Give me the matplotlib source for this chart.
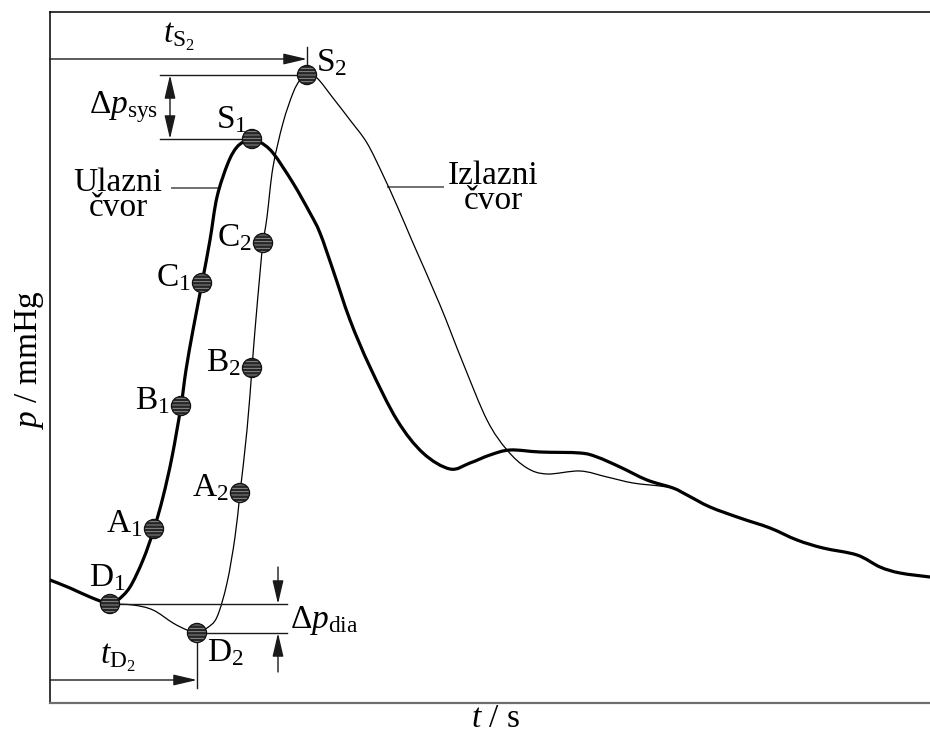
import matplotlib
matplotlib.use('Agg')
import matplotlib.pyplot as plt
from matplotlib.path import Path
from matplotlib.patches import PathPatch

# ---------------- data (arbitrary units) ----------------
t_ulazni = [0, 20, 40, 60, 68, 80, 93, 104, 113, 122, 131, 136, 143, 152, 160, 167,
            178, 187, 197, 202, 210, 223, 243, 260, 270, 283, 300, 320, 347, 373,
            400, 420, 440, 460, 490, 530, 547, 570, 597, 623, 637, 660, 690, 720,
            747, 773, 807, 830, 850, 880]
p_ulazni = [123, 115, 106, 99, 103, 116, 143, 174, 206, 246, 297, 333, 373, 420, 463, 506,
            540, 556, 563, 564, 561, 550, 520, 490, 470, 433, 383, 336, 283, 250,
            234, 240, 248, 253, 251, 250, 246, 236, 223, 215, 208, 196, 185, 175,
            163, 155, 148, 136, 130, 126]

t_izlazni = [60, 83, 103, 123, 137, 147, 157, 167, 177, 185, 190, 197, 202, 205, 210,
             213, 217, 223, 233, 243, 250, 257, 267, 283, 300, 317, 333, 348, 363, 390,
             413, 437, 457, 477, 497, 530, 557, 583, 610, 623]
p_izlazni = [99, 98, 93, 80, 73, 70, 75, 86, 120, 166, 210, 273, 335, 373, 430,
             460, 486, 536, 580, 610, 623, 628, 625, 605, 583, 560, 528, 495, 460, 398,
             340, 283, 253, 235, 229, 232, 226, 220, 217, 215]

names_ulazni = ['D', 'A', 'B', 'C', 'S']
t_pts_ulazni = [60, 104, 131, 152, 202]
p_pts_ulazni = [99, 174, 297, 420, 564]
t_pts_izlazni = [147, 190, 202, 213, 257]
p_pts_izlazni = [70, 210, 335, 460, 628]

label_ulazni = 'Ulazni\nčvor'
label_izlazni = 'Izlazni\nčvor'
xlabel = '$t$ / s'
ylabel = '$p$ / mmHg'

# ---------------- style ----------------
plt.rcParams['font.family'] = ['Liberation Serif', 'DejaVu Serif']
plt.rcParams['mathtext.fontset'] = 'custom'
plt.rcParams['mathtext.rm'] = 'Liberation Serif'
plt.rcParams['mathtext.it'] = 'Liberation Serif:italic'
plt.rcParams['mathtext.bf'] = 'Liberation Serif:bold'
plt.rcParams['hatch.linewidth'] = 0.6
plt.rcParams['hatch.color'] = '#9a9a9a'

FS = 24
LC = '#1a1a1a'

fig = plt.figure(figsize=(9.3, 7.35), dpi=100)
ax = fig.add_axes([50 / 930, 32 / 735, 880 / 930, 691 / 735])
ax.set_xlim(0, 880)
ax.set_ylim(0, 691)
ax.set_xticks([])
ax.set_yticks([])
ax.spines['right'].set_visible(False)
ax.spines['left'].set_linewidth(1.1)
ax.spines['top'].set_linewidth(1.1)
ax.spines['bottom'].set_linewidth(1.6)
ax.spines['bottom'].set_color('#6e6e6e')


def smooth_path(xs, ys):
    """Cubic Bezier path passing through every data point (Catmull-Rom tangents)."""
    pts = list(zip(xs, ys))
    n = len(pts)
    verts = [pts[0]]
    codes = [Path.MOVETO]
    for i in range(n - 1):
        p0 = pts[i - 1] if i > 0 else pts[i]
        p1 = pts[i]
        p2 = pts[i + 1]
        p3 = pts[i + 2] if i + 2 < n else pts[i + 1]
        c1 = (p1[0] + (p2[0] - p0[0]) / 6.0, p1[1] + (p2[1] - p0[1]) / 6.0)
        c2 = (p2[0] - (p3[0] - p1[0]) / 6.0, p2[1] - (p3[1] - p1[1]) / 6.0)
        verts += [c1, c2, p2]
        codes += [Path.CURVE4] * 3
    return Path(verts, codes)


# curves
ax.add_patch(PathPatch(smooth_path(t_izlazni, p_izlazni), fill=False, edgecolor='black',
                       lw=0.9, zorder=2, joinstyle='round', capstyle='round'))
ax.add_patch(PathPatch(smooth_path(t_ulazni, p_ulazni), fill=False, edgecolor='black',
                       lw=2.3, zorder=3, joinstyle='round', capstyle='round'))

# markers
for tt, pp in ((t_pts_ulazni, p_pts_ulazni), (t_pts_izlazni, p_pts_izlazni)):
    ax.scatter(tt, pp, s=190, facecolor='#262626', edgecolor='#9a9a9a', hatch='-----',
               linewidths=0, zorder=5)
    ax.scatter(tt, pp, s=190, facecolor='none', edgecolor='#111111', linewidths=0.9, zorder=6)


def lab(name, idx):
    return r'$\mathrm{%s}_%d$' % (name, idx)


for name, t, p in zip(names_ulazni, t_pts_ulazni, p_pts_ulazni):
    if name == 'D':
        ax.text(t - 3, p + 26, lab(name, 1), fontsize=FS, ha='center', va='center')
    elif name == 'S':
        ax.text(t - 20, p + 19, lab(name, 1), fontsize=FS, ha='center', va='center')
    else:
        ax.text(t - 11, p + 5, lab(name, 1), fontsize=FS, ha='right', va='center')

for name, t, p in zip(names_ulazni, t_pts_izlazni, p_pts_izlazni):
    if name == 'D':
        ax.text(t + 10, p - 20, lab(name, 2), fontsize=FS, ha='left', va='center')
    elif name == 'S':
        ax.text(t + 9, p + 12, lab(name, 2), fontsize=FS, ha='left', va='center')
    else:
        ax.text(t - 11, p + 5, lab(name, 2), fontsize=FS, ha='right', va='center')

tD1, pD1 = t_pts_ulazni[0], p_pts_ulazni[0]
tS1, pS1 = t_pts_ulazni[-1], p_pts_ulazni[-1]
tD2, pD2 = t_pts_izlazni[0], p_pts_izlazni[0]
tS2, pS2 = t_pts_izlazni[-1], p_pts_izlazni[-1]

arrow1 = dict(arrowstyle='-|>,head_length=1.2,head_width=0.28', color=LC, lw=1.0,
              shrinkA=0, shrinkB=0, mutation_scale=12)
arrow2 = dict(arrowstyle='<|-|>,head_length=1.2,head_width=0.28', color=LC, lw=1.0,
              shrinkA=0, shrinkB=0, mutation_scale=12)
dl = dict(color=LC, lw=1.0, zorder=4)

# t_S2 dimension
y_ts2 = 644
ax.annotate('', xy=(tS2, y_ts2), xytext=(0, y_ts2), arrowprops=arrow1)
ax.plot([tS2, tS2], [pS2 + 8, 656], **dl)
ax.text(tS2 / 2, 666, r'$t_{\mathrm{S}_2}$', fontsize=FS, ha='center', va='center')

# delta p_sys
x_sys0 = 110
x_sys = 120
ax.plot([x_sys0, tS2], [pS2, pS2], **dl)
ax.plot([x_sys0, tS1], [pS1, pS1], **dl)
ax.annotate('', xy=(x_sys, pS2), xytext=(x_sys, pS1), arrowprops=arrow2)
ax.text(x_sys0 - 2, (pS1 + pS2) / 2, r'$\Delta p_{\mathrm{sys}}$', fontsize=FS,
        ha='right', va='center')

# delta p_dia
x_dia_end = 237
x_dia = 228
ax.plot([tD1, x_dia_end], [pD1, pD1], **dl)
ax.plot([tD2, x_dia_end], [pD2, pD2], **dl)
ax.annotate('', xy=(x_dia, pD1), xytext=(x_dia, pD1 + 37), arrowprops=arrow1)
ax.annotate('', xy=(x_dia, pD2), xytext=(x_dia, pD2 - 39), arrowprops=arrow1)
ax.text(x_dia_end + 3, (pD1 + pD2) / 2 - 2, r'$\Delta p_{\mathrm{dia}}$', fontsize=FS,
        ha='left', va='center')

# t_D2 dimension
y_td2 = 23
ax.annotate('', xy=(tD2, y_td2), xytext=(0, y_td2), arrowprops=arrow1)
ax.plot([tD2, tD2], [pD2 - 8, 15], **dl)
ax.text(tD2 * 0.46, 45, r'$t_{\mathrm{D}_2}$', fontsize=FS, ha='center', va='center')

# curve name labels with leader lines
ax.text(68, 508, label_ulazni, fontsize=FS, ha='center', va='center',
        multialignment='center', linespacing=0.78)
ax.plot([122, 168], [515, 515], color='#707070', lw=1.4, zorder=1)
ax.text(443, 515, label_izlazni, fontsize=FS, ha='center', va='center',
        multialignment='center', linespacing=0.78)
ax.plot([338, 393], [516, 516], color='#707070', lw=1.4, zorder=1)

# axis labels
fig.text(495 / 930, 1 - 719 / 735, xlabel, fontsize=FS, ha='center', va='center')
fig.text(29 / 930, 1 - 360 / 735, ylabel, fontsize=FS, ha='center', va='center',
         rotation=90)

fig.savefig('out.png', dpi=100)
